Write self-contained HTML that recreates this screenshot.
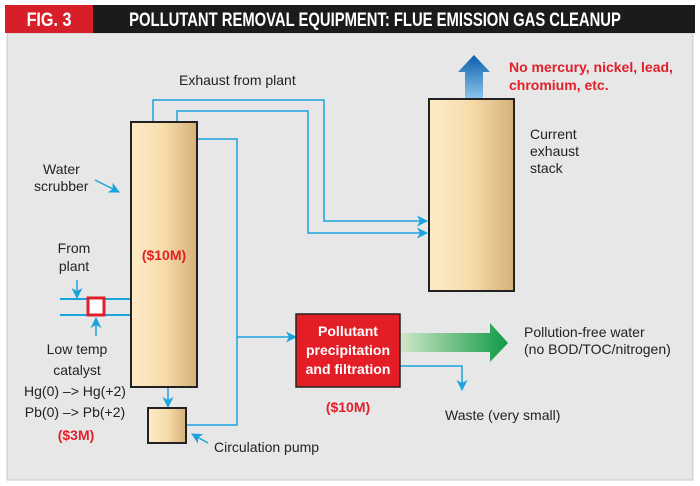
<!DOCTYPE html>
<html><head><style>
body{margin:0;background:#fff;}
svg{display:block;font-family:"Liberation Sans",sans-serif;}
</style></head><body>
<svg width="700" height="486" viewBox="0 0 700 486" xmlns="http://www.w3.org/2000/svg">
<defs>
<linearGradient id="tan" x1="0" x2="1" y1="0" y2="0">
<stop offset="0" stop-color="#fdebc8"/><stop offset="0.5" stop-color="#f7dcaa"/><stop offset="1" stop-color="#d6b07a"/>
</linearGradient>
<linearGradient id="blu" x1="0" x2="0" y1="0" y2="1">
<stop offset="0" stop-color="#0a5fae"/><stop offset="1" stop-color="#8cc3ea"/>
</linearGradient>
<linearGradient id="grn" x1="0" x2="1" y1="0" y2="0">
<stop offset="0" stop-color="#cfe6c8"/><stop offset="1" stop-color="#0f9a45"/>
</linearGradient>
<marker id="a" markerWidth="11" markerHeight="11" refX="10" refY="5.5" orient="auto" markerUnits="userSpaceOnUse" viewBox="0 0 11 11"><path d="M0,0 L11,5.5 L0,11 L3,5.5 Z" fill="#1aa3dd"/></marker>
</defs>
<rect x="0" y="0" width="700" height="486" fill="#fff"/>
<rect x="7" y="33" width="686" height="447" fill="#e7e7e7" stroke="#c8c8c8"/>
<rect x="5" y="5" width="690" height="28" fill="#1c1a1a"/>
<rect x="5" y="5" width="88" height="28" fill="#d71f2a"/>
<text x="49" y="26" font-size="19" font-weight="bold" fill="#fff" text-anchor="middle" transform="translate(49,0) scale(0.85,1) translate(-49,0)">FIG. 3</text>
<text x="375" y="26" font-size="19" font-weight="bold" fill="#fff" text-anchor="middle" transform="translate(375,0) scale(0.78,1) translate(-375,0)">POLLUTANT REMOVAL EQUIPMENT: FLUE EMISSION GAS CLEANUP</text>

<g fill="none" stroke="#1aa3dd" stroke-width="1.5">
<polyline points="153,122 153,100 324,100 324,221 427,221" marker-end="url(#a)"/>
<polyline points="177,122 177,111 308,111 308,233 427,233" marker-end="url(#a)"/>
<polyline points="186,425 237,425 237,139 177,139 177,155" marker-end="url(#a)"/>
<polyline points="237,337 296,337" marker-end="url(#a)"/>
<polyline points="400,366 462,366 462,390" marker-end="url(#a)"/>
<polyline points="168,387 168,407" marker-end="url(#a)"/>
<line x1="60" y1="299" x2="131" y2="299" stroke-width="2"/>
<line x1="60" y1="315" x2="131" y2="315" stroke-width="2"/>
<polyline points="77,280 77,298" marker-end="url(#a)"/>
<polyline points="96,336 96,318" marker-end="url(#a)"/>
<polyline points="95,180 119,192" marker-end="url(#a)"/>
<polyline points="208,443 192,434" marker-end="url(#a)"/>
</g>
<rect x="131" y="122" width="66" height="265" fill="url(#tan)" stroke="#222" stroke-width="2"/>
<rect x="148" y="408" width="38" height="35" fill="url(#tan)" stroke="#222" stroke-width="2"/>
<rect x="429" y="99" width="85" height="192" fill="url(#tan)" stroke="#222" stroke-width="2"/>
<rect x="88" y="298" width="16" height="17" fill="#fff" stroke="#e0202a" stroke-width="3"/>
<path d="M465,98 L465,72 L458,72 L474,55 L490,72 L483,72 L483,98 Z" fill="url(#blu)"/>
<rect x="296" y="314" width="104" height="73" fill="#e41e26" stroke="#222" stroke-width="1.5"/>
<path d="M401,333 L490,333 L490,323 L508,343 L490,362 L490,352 L401,352 Z" fill="url(#grn)"/>

<g font-size="14" fill="#222">
<text x="179" y="85">Exhaust from plant</text>
<text x="43" y="174">Water</text><text x="34" y="191">scrubber</text>
<text x="74" y="253" text-anchor="middle">From</text><text x="74" y="271" text-anchor="middle">plant</text>
<text x="77" y="354" text-anchor="middle">Low temp</text><text x="77" y="375" text-anchor="middle">catalyst</text>
<text x="75" y="396" text-anchor="middle">Hg(0) –&gt; Hg(+2)</text>
<text x="75" y="417" text-anchor="middle">Pb(0) –&gt; Pb(+2)</text>
<text x="214" y="452">Circulation pump</text>
<text x="530" y="139">Current</text><text x="530" y="156">exhaust</text><text x="530" y="173">stack</text>
<text x="524" y="337">Pollution-free water</text><text x="524" y="354">(no BOD/TOC/nitrogen)</text>
<text x="445" y="420">Waste (very small)</text>
</g>
<g font-size="14" font-weight="bold" fill="#e0202a">
<text x="164" y="260" text-anchor="middle">($10M)</text>
<text x="76" y="440" text-anchor="middle">($3M)</text>
<text x="348" y="412" text-anchor="middle">($10M)</text>
<text x="509" y="72">No mercury, nickel, lead,</text>
<text x="509" y="90">chromium, etc.</text>
</g>
<g font-size="14" font-weight="bold" fill="#fff" text-anchor="middle">
<text x="348" y="336">Pollutant</text><text x="348" y="355">precipitation</text><text x="348" y="374">and filtration</text>
</g>
</svg>
</body></html>
